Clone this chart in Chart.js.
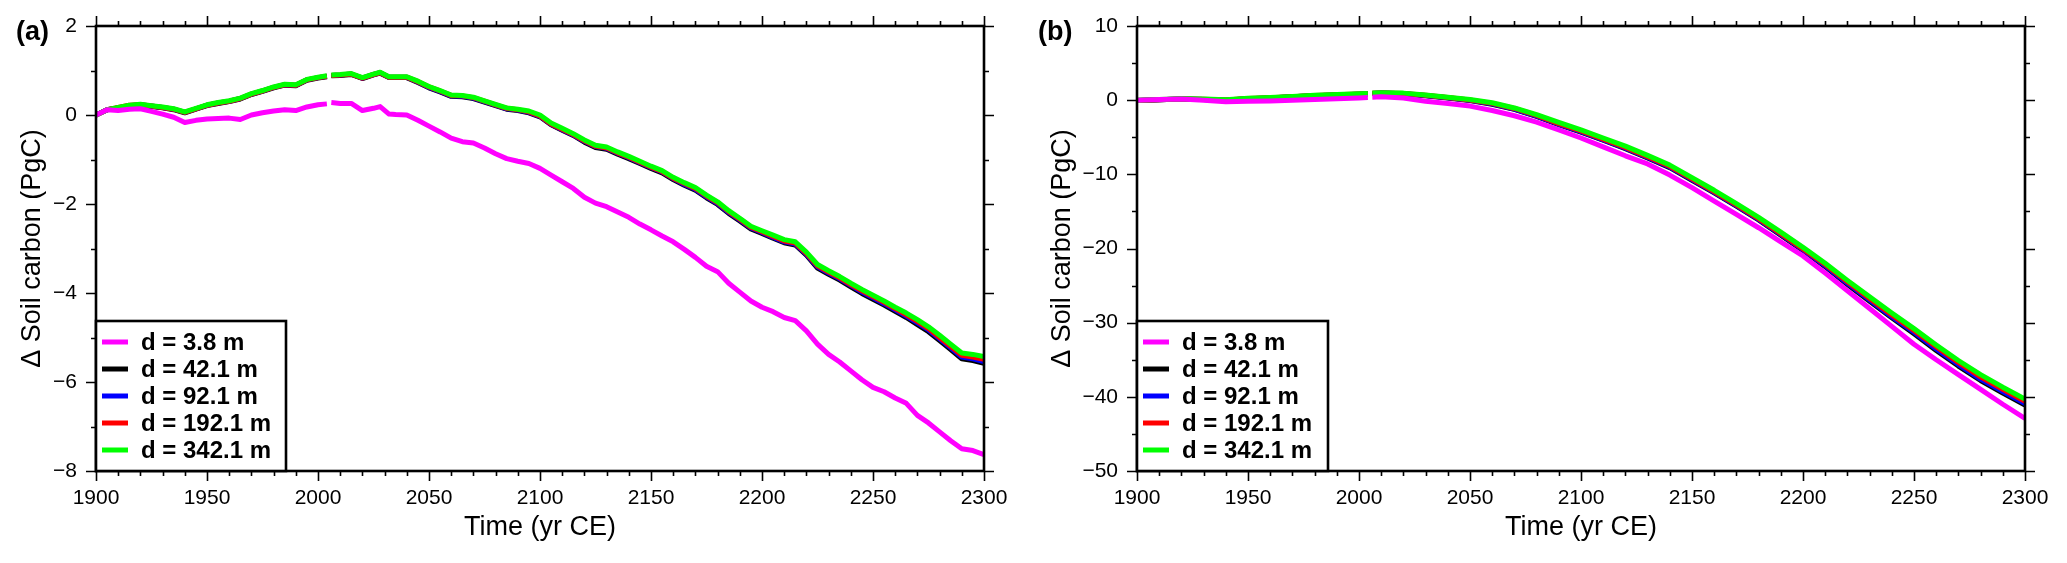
<!DOCTYPE html>
<html><head><meta charset="utf-8">
<script src="https://cdn.jsdelivr.net/npm/chart.js@4/dist/chart.umd.min.js"></script>
<style>
html,body{margin:0;padding:0;background:#fff;}
#wrap{position:relative;width:2067px;height:563px;overflow:hidden;background:#fff;}
canvas{position:absolute;top:0;}
</style></head><body>
<div id="wrap">
<canvas id="ca" width="1030" height="563" style="left:0;width:1030px;height:563px"></canvas>
<canvas id="cb" width="1037" height="563" style="left:1030px;width:1037px;height:563px"></canvas>
</div>
<script>
// ---------- data ----------
const seriesLabels = ['d = 3.8 m','d = 42.1 m','d = 92.1 m','d = 192.1 m','d = 342.1 m'];
const seriesColors = ['#ff00ff','#000000','#0000ff','#ff0000','#00ff00'];
const xAxisTitle = 'Time (yr CE)';
const yAxisTitle = 'Δ Soil carbon (PgC)';
const panelLabels = ['(a)','(b)'];

// Panel (a)
const yearsA = [1900,1905,1910,1915,1920,1925,1930,1935,1940,1945,1950,1955,1960,1965,1970,1975,1980,1985,1990,1995,2000,
  2004,2005,2006,2010,2015,2020,2025,2028,2032,
  2035,2040,2045,2050,2055,2060,2065,2070,2075,2080,2085,2090,2095,2100,2105,2110,2115,2120,2125,2130,2135,2140,2145,2150,
  2155,2160,2165,2170,2175,2180,2185,2190,2195,2200,2205,2210,2215,2220,2225,2230,2235,2240,2245,2250,2255,2260,2265,2270,
  2275,2280,2285,2290,2295,2300];
const a_d3_8 = [0.00,0.12,0.10,0.13,0.14,0.08,0.02,-0.05,-0.17,-0.12,-0.09,-0.08,-0.07,-0.10,0.00,0.05,0.09,0.12,0.10,0.18,0.23,
  0.25,null,0.28,0.26,0.26,0.10,0.15,0.19,0.02,
  0.01,0.00,-0.12,-0.25,-0.38,-0.52,-0.60,-0.63,-0.74,-0.87,-0.98,-1.04,-1.09,-1.20,-1.35,-1.50,-1.65,-1.85,-1.98,-2.06,-2.18,-2.30,-2.45,-2.58,
  -2.72,-2.85,-3.02,-3.20,-3.40,-3.52,-3.78,-3.98,-4.18,-4.32,-4.42,-4.55,-4.62,-4.85,-5.15,-5.38,-5.55,-5.75,-5.95,-6.12,-6.22,-6.36,-6.48,-6.75,
  -6.92,-7.12,-7.32,-7.50,-7.54,-7.63];
const a_d42_1 = [0.00,0.12,0.16,0.21,0.22,0.19,0.16,0.12,0.05,0.13,0.21,0.26,0.30,0.36,0.46,0.53,0.61,0.67,0.66,0.78,0.83,
  0.86,null,0.88,0.89,0.91,0.82,0.90,0.94,0.84,
  0.84,0.84,0.73,0.61,0.52,0.42,0.41,0.37,0.29,0.21,0.13,0.10,0.05,-0.04,-0.22,-0.34,-0.46,-0.61,-0.73,-0.77,-0.88,-0.98,-1.09,-1.20,
  -1.30,-1.45,-1.58,-1.69,-1.86,-2.01,-2.21,-2.38,-2.56,-2.66,-2.77,-2.87,-2.92,-3.15,-3.44,-3.58,-3.71,-3.86,-4.01,-4.14,-4.27,-4.41,-4.55,-4.71,
  -4.87,-5.07,-5.27,-5.48,-5.52,-5.58];
const a_d92_1 = [0.00,0.12,0.16,0.21,0.23,0.20,0.17,0.13,0.06,0.14,0.22,0.27,0.31,0.37,0.47,0.54,0.62,0.68,0.67,0.79,0.84,
  0.87,null,0.89,0.90,0.92,0.83,0.91,0.95,0.85,
  0.85,0.85,0.74,0.62,0.53,0.43,0.42,0.38,0.30,0.22,0.14,0.11,0.06,-0.03,-0.21,-0.33,-0.45,-0.59,-0.71,-0.75,-0.86,-0.96,-1.07,-1.18,
  -1.28,-1.43,-1.56,-1.67,-1.84,-1.99,-2.19,-2.36,-2.54,-2.64,-2.75,-2.85,-2.90,-3.13,-3.41,-3.55,-3.68,-3.83,-3.98,-4.11,-4.24,-4.38,-4.52,-4.67,
  -4.83,-5.03,-5.23,-5.44,-5.48,-5.54];
const a_d192_1 = [0.00,0.12,0.17,0.22,0.23,0.20,0.17,0.13,0.06,0.14,0.22,0.27,0.31,0.37,0.47,0.54,0.62,0.68,0.67,0.79,0.84,
  0.87,null,0.89,0.90,0.92,0.83,0.91,0.95,0.85,
  0.85,0.85,0.75,0.63,0.54,0.44,0.43,0.39,0.31,0.23,0.15,0.12,0.07,-0.02,-0.20,-0.32,-0.44,-0.58,-0.70,-0.74,-0.85,-0.95,-1.06,-1.17,
  -1.27,-1.42,-1.54,-1.65,-1.82,-1.97,-2.17,-2.34,-2.52,-2.62,-2.73,-2.83,-2.88,-3.11,-3.39,-3.53,-3.66,-3.81,-3.95,-4.08,-4.21,-4.35,-4.49,-4.64,
  -4.80,-5.00,-5.20,-5.40,-5.44,-5.49];
const a_d342_1 = [0.00,0.12,0.17,0.22,0.24,0.21,0.18,0.14,0.07,0.15,0.23,0.28,0.32,0.38,0.48,0.55,0.63,0.69,0.68,0.80,0.85,
  0.88,null,0.90,0.91,0.93,0.84,0.92,0.96,0.86,
  0.86,0.86,0.76,0.64,0.55,0.45,0.44,0.40,0.32,0.24,0.16,0.13,0.09,0.00,-0.18,-0.30,-0.42,-0.56,-0.68,-0.72,-0.83,-0.93,-1.04,-1.15,
  -1.25,-1.40,-1.52,-1.63,-1.80,-1.95,-2.15,-2.32,-2.50,-2.60,-2.70,-2.80,-2.85,-3.08,-3.36,-3.50,-3.63,-3.78,-3.92,-4.05,-4.18,-4.32,-4.45,-4.60,
  -4.76,-4.95,-5.15,-5.35,-5.38,-5.43];

// Panel (b)
const yearsB = [1900,1910,1920,1930,1940,1950,1960,1970,1980,1990,2000,2004,2005,2006,
  2010,2020,2030,2040,2050,2060,2070,2080,2090,2100,2110,2120,2130,2140,2150,2160,2170,2180,2190,2200,
  2210,2220,2230,2240,2250,2260,2270,2280,2290,2300];
const b_d3_8 = [0.0,0.1,0.15,0.0,-0.2,-0.15,-0.1,0.0,0.1,0.2,0.3,0.35,null,0.4,
  0.45,0.3,-0.15,-0.45,-0.8,-1.4,-2.1,-2.95,-4.0,-5.1,-6.3,-7.5,-8.6,-10.1,-11.8,-13.6,-15.4,-17.2,-19.1,-21.0,
  -23.3,-25.7,-28.1,-30.5,-32.9,-35.0,-37.0,-39.0,-41.0,-42.9];
const b_d42_1 = [-0.05,0.05,0.15,0.1,0.0,0.2,0.3,0.45,0.6,0.7,0.8,0.85,null,0.9,
  0.95,0.85,0.6,0.3,-0.05,-0.55,-1.25,-2.2,-3.3,-4.3,-5.4,-6.55,-7.8,-9.1,-10.8,-12.5,-14.3,-16.15,-18.2,-20.25,
  -22.45,-24.85,-27.1,-29.35,-31.5,-33.75,-35.85,-37.8,-39.5,-41.1];
const b_d92_1 = [-0.05,0.05,0.15,0.1,0.0,0.2,0.3,0.45,0.6,0.7,0.8,0.85,null,0.9,
  0.95,0.87,0.62,0.32,-0.02,-0.5,-1.2,-2.15,-3.25,-4.25,-5.35,-6.47,-7.72,-9.02,-10.72,-12.42,-14.22,-16.07,-18.1,-20.15,
  -22.32,-24.7,-26.95,-29.2,-31.3,-33.55,-35.65,-37.6,-39.3,-40.9];
const b_d192_1 = [-0.03,0.07,0.17,0.12,0.02,0.22,0.32,0.47,0.62,0.72,0.82,0.87,null,0.92,
  0.97,0.9,0.65,0.35,0.03,-0.43,-1.12,-2.05,-3.15,-4.15,-5.25,-6.37,-7.62,-8.92,-10.62,-12.32,-14.12,-15.97,-18.0,-20.05,
  -22.16,-24.5,-26.75,-28.95,-31.05,-33.25,-35.35,-37.3,-39.0,-40.6];
const b_d342_1 = [0.0,0.1,0.2,0.15,0.05,0.25,0.35,0.5,0.65,0.75,0.85,0.9,null,0.95,
  1.0,0.95,0.7,0.4,0.1,-0.35,-1.05,-1.95,-3.0,-4.0,-5.1,-6.2,-7.45,-8.75,-10.45,-12.15,-13.95,-15.8,-17.8,-19.85,
  -22.0,-24.3,-26.5,-28.7,-30.8,-33.0,-35.1,-37.0,-38.7,-40.3];

// ---------- drawing ----------
const FONT = '"Liberation Sans", Arial, Helvetica, sans-serif';
const drawOrder = [0,4,3,2,1]; // magenta on top, then green, red, blue, black

const framePlugin = {
  id: 'frameTicks',
  afterDatasetsDraw(chart, args, o) {
    const ctx = chart.ctx;
    const {left, right, top, bottom} = chart.chartArea;
    const xs = chart.scales.x, ys = chart.scales.y;
    ctx.save();
    ctx.strokeStyle = '#000';
    ctx.lineCap = 'butt';
    ctx.lineWidth = 1.6;
    const isMaj = (v, step) => Math.abs(v / step - Math.round(v / step)) < 1e-6;
    ctx.beginPath();
    for (let v = xs.min; v <= xs.max + 1e-9; v += o.xMinor) {
      const px = Math.round(xs.getPixelForValue(v)) + 0.5;
      const len = isMaj(v, o.xMajor) ? 10 : 5;
      ctx.moveTo(px, bottom); ctx.lineTo(px, bottom + len);
      ctx.moveTo(px, top); ctx.lineTo(px, top - len);
    }
    for (let v = ys.min; v <= ys.max + 1e-9; v += o.yMinor) {
      const py = Math.round(ys.getPixelForValue(v)) + 0.5;
      const len = isMaj(v, o.yMajor) ? 10 : 5;
      ctx.moveTo(left, py); ctx.lineTo(left - len, py);
      ctx.moveTo(right, py); ctx.lineTo(right + len, py);
    }
    ctx.stroke();
    ctx.lineWidth = 2.6;
    ctx.lineJoin = 'miter';
    ctx.strokeRect(left, top, right - left, bottom - top);
    ctx.restore();
  },
  afterDraw(chart, args, o) {
    const ctx = chart.ctx;
    const {left, bottom} = chart.chartArea;
    ctx.save();
    // legend box
    const bx = left, by = bottom - 150, bw = o.legendW, bh = 150;
    ctx.fillStyle = '#fff';
    ctx.fillRect(bx, by, bw, bh);
    ctx.strokeStyle = '#000';
    ctx.lineWidth = 2.6;
    ctx.strokeRect(bx, by, bw, bh);
    ctx.font = 'bold 24px ' + FONT;
    ctx.textBaseline = 'middle';
    ctx.textAlign = 'left';
    chart.data.datasets.forEach((ds, i) => {
      const yy = by + 21 + i * 27;
      ctx.strokeStyle = ds.borderColor;
      ctx.lineWidth = 5;
      ctx.beginPath();
      ctx.moveTo(bx + 6, yy); ctx.lineTo(bx + 32, yy);
      ctx.stroke();
      ctx.fillStyle = '#000';
      ctx.fillText(ds.label, bx + 45, yy + 1);
    });
    // panel label
    ctx.font = 'bold 27px ' + FONT;
    ctx.fillStyle = '#000';
    ctx.textBaseline = 'middle';
    ctx.fillText(o.panelLabel, o.labelX, 33);
    ctx.restore();
  }
};

function fmtNum(v) { return v < 0 ? '\u2212' + Math.abs(v) : String(v); }

function makeChart(id, years, seriesVals, cfg) {
  const datasets = seriesVals.map((vals, i) => ({
    label: seriesLabels[i],
    data: years.map((x, k) => ({x: x, y: vals[k]})),
    borderColor: seriesColors[i],
    backgroundColor: seriesColors[i],
    borderWidth: 5,
    pointRadius: 0,
    fill: false,
    spanGaps: false,
    tension: 0,
    order: drawOrder.indexOf(i)
  }));
  return new Chart(document.getElementById(id), {
    type: 'line',
    data: {datasets},
    plugins: [framePlugin],
    options: {
      responsive: false,
      animation: false,
      devicePixelRatio: 1,
      layout: {padding: {left: 0, right: cfg.rightPad, top: 26, bottom: 0}},
      plugins: {
        legend: {display: false},
        tooltip: {enabled: false},
        frameTicks: {xMajor: 50, xMinor: 10, yMajor: cfg.yMajor, yMinor: cfg.yMinor,
                     legendW: cfg.legendW, panelLabel: cfg.panelLabel, labelX: cfg.labelX}
      },
      elements: {line: {borderJoinStyle: 'round', borderCapStyle: 'butt'}},
      scales: {
        x: {
          type: 'linear', min: 1900, max: 2300,
          grid: {display: false, drawTicks: false},
          border: {display: false},
          ticks: {stepSize: 50, padding: 15, color: '#000', autoSkip: false, maxRotation: 0,
                  font: {family: FONT, size: 21}, callback: v => String(v)},
          title: {display: true, text: xAxisTitle, color: '#000',
                  font: {family: FONT, size: 27}, padding: {top: 0, bottom: 19}},
          afterFit(s) { s.height = 92; s.paddingLeft = 0; s.paddingRight = 0; }
        },
        y: {
          type: 'linear', min: cfg.yMin, max: cfg.yMax,
          grid: {display: false, drawTicks: false},
          border: {display: false},
          ticks: {stepSize: cfg.yMajor, padding: 19, color: '#000', autoSkip: false,
                  font: {family: FONT, size: 21}, callback: v => fmtNum(v)},
          title: {display: true, text: yAxisTitle, color: '#000',
                  font: {family: FONT, size: 27}, padding: {top: 16, bottom: 0}},
          afterFit(s) { s.width = cfg.axisLeft; s.paddingTop = 0; s.paddingBottom = 0; }
        }
      }
    }
  });
}

makeChart('ca', yearsA, [a_d3_8, a_d42_1, a_d92_1, a_d192_1, a_d342_1],
  {yMin: -8, yMax: 2, yMajor: 2, yMinor: 1, axisLeft: 96, rightPad: 46, legendW: 190,
   panelLabel: panelLabels[0], labelX: 16});
makeChart('cb', yearsB, [b_d3_8, b_d42_1, b_d92_1, b_d192_1, b_d342_1],
  {yMin: -50, yMax: 10, yMajor: 10, yMinor: 5, axisLeft: 107, rightPad: 42, legendW: 191,
   panelLabel: panelLabels[1], labelX: 8});
</script>
</body></html>
